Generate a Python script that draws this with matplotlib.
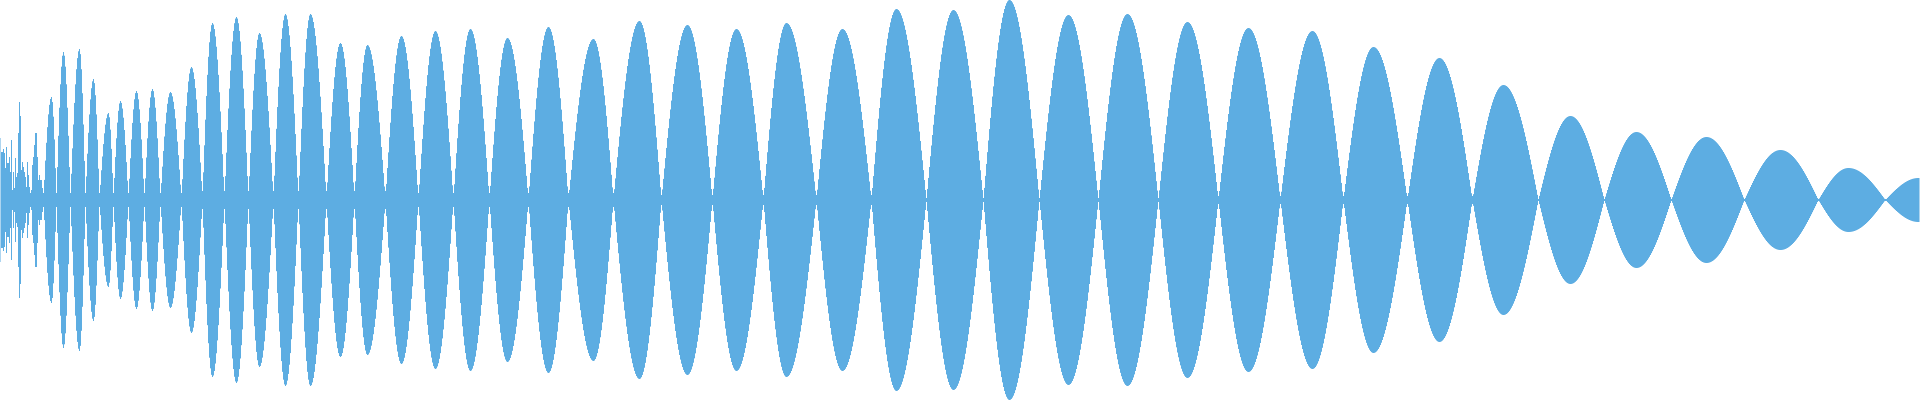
import numpy as np
import matplotlib.pyplot as plt

# waveform envelope, in pixels from the centre line (400 px tall picture)

# noisy start: peak amplitude for each of the first pixel columns
head_amp = [62, 48, 48, 51, 47, 32, 53, 37, 37, 43, 28, 60, 10, 28, 12, 42, 23, 27, 67, 98,
            84, 30, 38, 33, 28, 23, 13, 38, 25, 13, 7, 10, 35, 43, 55, 67, 67, 43, 20, 25,
            20, 20, 12]

# the lobes after it: node positions (where the wave pinches), peak positions and peak heights
nodes = [43, 56, 70, 85, 99, 113, 128, 144, 160, 181,
         202, 224, 248, 273, 298, 326, 354, 385, 418, 453,
         489, 528, 568, 613, 661, 712, 763, 816, 871, 926,
         983, 1039, 1098, 1158, 1218, 1280, 1343, 1407, 1472, 1538,
         1604, 1671, 1744, 1818, 1885, 1950]
peaks = [51, 63, 79, 93, 108, 120, 136, 152, 170, 191,
         212, 236, 259, 285, 310, 340, 367, 401, 435, 470,
         507, 548, 593, 639, 687, 736, 786, 842, 896, 953,
         1009, 1068, 1127, 1187, 1248, 1312, 1373, 1439, 1503, 1570,
         1636, 1706, 1780, 1848, 1918]
amps = [103, 148, 151, 121, 87, 99, 109, 111, 108, 133,
        177, 183, 167, 186, 186, 157, 155, 164, 169, 171,
        162, 173, 161, 179, 175, 171, 177, 171, 191, 190,
        200, 185, 186, 178, 172, 169, 153, 142, 115, 84,
        68, 63, 50, 32, 22]
# thickness of the band left at the pinch points
necks = [7] * 10 + [9] * 8 + [7] * 6 + [5] * 5 + [2] * 5 + [4] * 5 + [1] * 6

width = 1920
x = np.arange(width)
env = np.zeros(width)
env[:len(head_amp)] = head_amp

for i in range(len(amps)):
    a, p, b = nodes[i], peaks[i], nodes[i + 1]
    sel = (x >= a) & (x < b)
    xs = x[sel]
    u = np.where(xs <= p, (xs - a) / (p - a), (b - xs) / (b - p))
    env[sel] = np.maximum(amps[i] * np.sin(np.pi / 2 * np.clip(u, 0, 1)), necks[i])

fig = plt.figure(figsize=(19.2, 4), dpi=100)
ax = fig.add_axes([0, 0, 1, 1])
ax.fill_between(x, -env, env, step="mid", color="#5dade2", linewidth=0)
ax.set_xlim(-0.5, width - 0.5)
ax.set_ylim(-200, 200)
ax.axis("off")
fig.savefig("out.png", dpi=100)
